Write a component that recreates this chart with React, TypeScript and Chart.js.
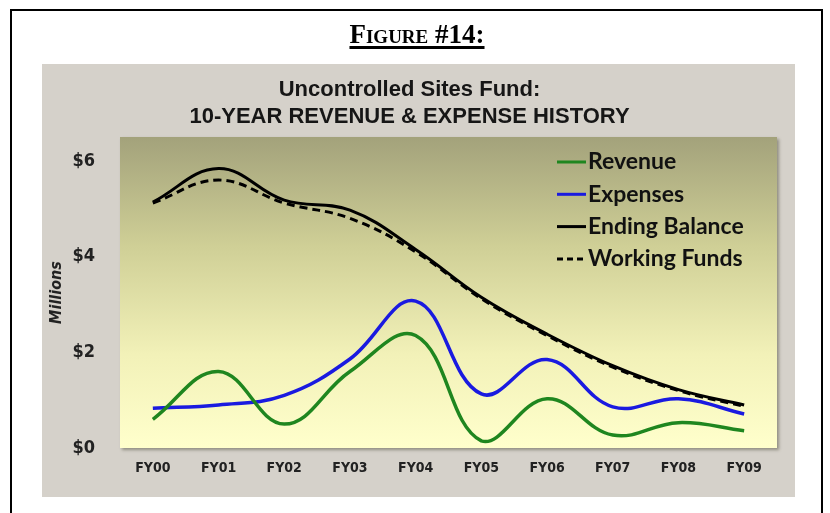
import React, { useEffect, useRef } from "react";
import { Chart, registerables } from "chart.js";

Chart.register(...registerables);

const categories = ["FY00", "FY01", "FY02", "FY03", "FY04", "FY05", "FY06", "FY07", "FY08", "FY09"];
const revenue = [0.6, 1.6, 0.5, 1.6, 2.35, 0.15, 1.03, 0.27, 0.53, 0.36];
const expenses = [0.83, 0.9, 1.1, 1.86, 3.07, 1.13, 1.85, 0.86, 1.03, 0.71];
const endingBalance = [5.14, 5.84, 5.18, 4.97, 4.15, 3.15, 2.38, 1.72, 1.22, 0.9];
const workingFunds = [5.12, 5.6, 5.12, 4.8, 4.1, 3.12, 2.35, 1.69, 1.2, 0.87];
const yTickValues = [0, 2, 4, 6];
const titleLines = ["Uncontrolled Sites Fund:", "10-YEAR REVENUE & EXPENSE HISTORY"];
const seriesNames = ["Revenue", "Expenses", "Ending Balance", "Working Funds"];

const NARROW = '"Liberation Sans Narrow", "DejaVu Sans Condensed", sans-serif';

const bgPlugin = {
  id: "plotBg",
  beforeDraw(chart: any) {
    const { ctx, chartArea } = chart;
    const { left, top, right, bottom } = chartArea;
    ctx.save();
    const g = ctx.createLinearGradient(0, top, 0, bottom);
    g.addColorStop(0, "#a3a27b");
    g.addColorStop(0.35, "#cfcf96");
    g.addColorStop(0.7, "#f2f1b8");
    g.addColorStop(1, "#ffffcc");
    ctx.shadowColor = "rgba(60,60,40,0.45)";
    ctx.shadowOffsetX = 2;
    ctx.shadowOffsetY = 2;
    ctx.shadowBlur = 3;
    ctx.fillStyle = g;
    ctx.fillRect(left, top, right - left, bottom - top);
    ctx.restore();
  },
};

const legendPlugin = {
  id: "inLegend",
  afterDraw(chart: any) {
    const { ctx, chartArea } = chart;
    const x0 = chartArea.right - 220;
    const y0 = chartArea.top + 25;
    const rowH = 32.3;
    ctx.save();
    ctx.font = 'bold 23px "Lato", "Open Sans", sans-serif';
    ctx.textBaseline = "middle";
    chart.data.datasets.forEach((ds: any, i: number) => {
      const y = y0 + i * rowH;
      ctx.beginPath();
      ctx.strokeStyle = ds.borderColor;
      ctx.lineWidth = 3;
      ctx.setLineDash(ds.borderDash && ds.borderDash.length ? [6, 4] : []);
      ctx.moveTo(x0, y);
      ctx.lineTo(x0 + 29, y);
      ctx.stroke();
      ctx.setLineDash([]);
      ctx.fillStyle = "#111";
      ctx.fillText(ds.label, x0 + 31, y);
    });
    ctx.restore();
  },
};

export default function App() {
  const ref = useRef<HTMLCanvasElement | null>(null);
  useEffect(() => {
    if (!ref.current) return;
    const chart = new Chart(ref.current, {
      type: "line",
      data: {
        labels: categories,
        datasets: [
          { label: seriesNames[0], data: revenue, borderColor: "#1f861f", borderWidth: 3.5, tension: 0.4, pointRadius: 0, fill: false },
          { label: seriesNames[1], data: expenses, borderColor: "#1a1ae0", borderWidth: 3.5, tension: 0.4, pointRadius: 0, fill: false },
          { label: seriesNames[2], data: endingBalance, borderColor: "#000000", borderWidth: 3, tension: 0.4, pointRadius: 0, fill: false },
          { label: seriesNames[3], data: workingFunds, borderColor: "#000000", borderWidth: 3, borderDash: [8, 5], tension: 0.4, pointRadius: 0, fill: false },
        ],
      },
      options: {
        responsive: false,
        animation: false,
        layout: { padding: { left: 0, right: 18, top: 0, bottom: 20 } },
        plugins: {
          legend: { display: false },
          tooltip: { enabled: false },
          title: {
            display: true,
            text: titleLines,
            color: "#161616",
            font: { family: '"Liberation Sans", Arial, sans-serif', size: 22, weight: "bold", lineHeight: 1.2 },
            padding: { top: 13, bottom: 7.2 },
          },
        },
        scales: {
          x: {
            offset: true,
            grid: { display: false, drawTicks: false },
            border: { display: false },
            ticks: { color: "#222", padding: 12, font: { family: NARROW, size: 14, weight: "bold" } },
            afterFit: (s: any) => { s.height = 29; },
          },
          y: {
            min: 0,
            max: 6.5,
            grid: { display: false, drawTicks: false },
            border: { display: false },
            ticks: {
              stepSize: 2,
              includeBounds: false,
              padding: 25,
              color: "#222",
              font: { family: NARROW, size: 18, weight: "bold" },
              callback: (v: any) => (yTickValues.includes(Number(v)) ? "$" + v : null),
            },
            title: {
              display: true,
              text: "Millions",
              color: "#222",
              font: { family: NARROW, size: 16, weight: "bold", style: "italic" },
              padding: { top: 5, bottom: 0 },
            },
            afterFit: (s: any) => { s.width = 78; },
          },
        },
      },
      plugins: [bgPlugin, legendPlugin],
    });
    return () => chart.destroy();
  }, []);

  return (
    <>
      <style>{`html,body{overflow:hidden;}`}</style>
      <div style={{ position: "fixed", left: 10, top: 9, width: 813, height: 530, border: "2px solid #000", boxSizing: "border-box", background: "#fff" }} />
      <div
        style={{
          position: "fixed",
          left: 0,
          top: 19,
          width: 834,
          textAlign: "center",
          fontFamily: '"Liberation Serif", "Times New Roman", serif',
          fontWeight: "bold",
          fontSize: 27,
          fontVariant: "small-caps",
          lineHeight: "30px",
        }}
      >
        <span style={{ textDecoration: "underline", textDecorationThickness: 3, textUnderlineOffset: 3 }}>Figure #14:</span>
      </div>
      <div style={{ position: "fixed", left: 42, top: 64, width: 753, height: 433, background: "#d5d1ca" }}>
        <canvas ref={ref} width={753} height={433} style={{ display: "block" }} />
      </div>
    </>
  );
}
